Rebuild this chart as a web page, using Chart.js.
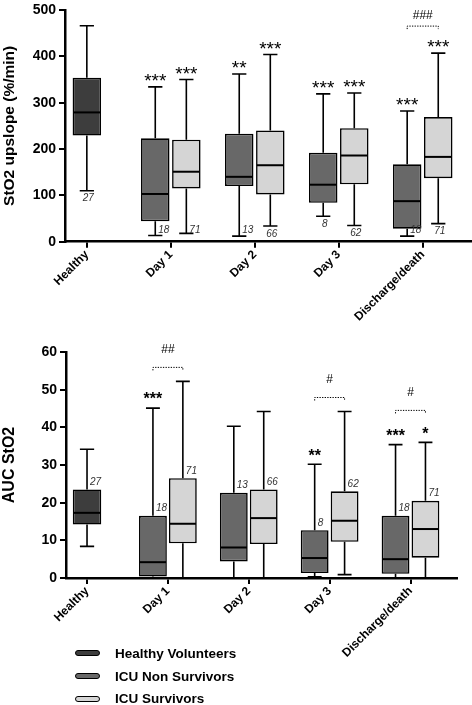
<!DOCTYPE html>
<html><head><meta charset="utf-8">
<script src="https://cdn.jsdelivr.net/npm/chart.js@4"></script>
<style>
html,body{margin:0;padding:0;background:#fff;width:472px;height:705px;overflow:hidden;}
#c1{position:absolute;left:0;top:0;}
#c2{position:absolute;left:0;top:320px;}
#legend{position:absolute;left:0;top:0;width:472px;height:705px;pointer-events:none;font-family:'Liberation Sans',Arial,sans-serif;}
.lm{position:absolute;left:75px;width:23px;height:4px;border:1.5px solid #000;border-radius:3px;}
.lt{position:absolute;left:115px;font-weight:bold;font-size:13.5px;line-height:16px;color:#000;white-space:nowrap;}
</style></head><body>
<canvas id="c1" width="472" height="325"></canvas>
<canvas id="c2" width="472" height="345"></canvas>
<div id="legend"></div>
<script>
const categories = ['Healthy', 'Day 1', 'Day 2', 'Day 3', 'Discharge/death'];
const seriesNames = ['Healthy Volunteers', 'ICU Non Survivors', 'ICU Survivors'];
const seriesColors = ['#3d3d3d', '#686868', '#d5d5d5'];

// box stats: [min, q1, median, q3, max]
const upHealthy = [[110, 229, 279, 354, 466], null, null, null, null];
const upNonSurv = [null, [13.5, 44, 103, 223, 334], [12, 120, 140, 233, 362], [55, 84, 123, 192, 319], [12, 28, 87.5, 167, 282]];
const upSurv = [null, [18, 115, 151, 220, 350], [34, 102, 165, 240, 404], [35, 124, 186, 245, 321], [39, 137, 183, 269, 407]];

const aucHealthy = [[8.4, 14.2, 17.3, 23.5, 34.2], null, null, null, null];
const aucNonSurv = [null, [0, 0.4, 4.2, 16.5, 45.1], [0, 4.4, 8.1, 22.6, 40.3], [0.3, 1.3, 5.3, 12.7, 30.2], [0, 1.1, 5.0, 16.5, 35.4]];
const aucSurv = [null, [0, 9.2, 14.4, 26.5, 52.2], [0, 9.0, 15.9, 23.5, 44.2], [0.9, 9.6, 15.2, 23.0, 44.2], [0, 5.4, 13.0, 20.5, 36.0]];

// group sizes
const nHealthy = [27, null, null, null, null];
const nNonSurv = [null, 18, 13, 8, 18];
const nSurv = [null, 71, 66, 62, 71];

// significance marks
const upStarsNS = [null, '***', '**', '***', '***'];
const upStarsS = [null, '***', '***', '***', '***'];
const upHash = [null, null, null, null, '###'];
const aucStarsNS = [null, '***', null, '**', '***'];
const aucStarsS = [null, null, null, null, '*'];
const aucHash = [null, '##', null, '#', '#'];

const upTicks = [0, 100, 200, 300, 400, 500];
const aucTicks = [0, 10, 20, 30, 40, 50, 60];

const FAMILY = "'Liberation Sans', Arial, sans-serif";

const boxPlugin = {
  id: 'boxExtras',
  afterDatasetsDraw(chart, args, o) {
    const ctx = chart.ctx, ys = chart.scales.y;
    const groups = {};
    ctx.save();
    chart.data.datasets.forEach((d, di) => {
      const meta = chart.getDatasetMeta(di);
      meta.data.forEach((el, i) => {
        const s = d.stats[i];
        if (!s) return;
        const x = el.x, w = el.width;
        const [pMin, pQ1, pMed, pQ3, pMax] = s.map(v => ys.getPixelForValue(v));
        ctx.setLineDash([]);
        ctx.strokeStyle = '#000';
        ctx.lineWidth = o.lineWidth;
        ctx.beginPath();
        ctx.moveTo(x, pQ3); ctx.lineTo(x, pMax);
        ctx.moveTo(x - w / 4, pMax); ctx.lineTo(x + w / 4, pMax);
        ctx.moveTo(x, pQ1); ctx.lineTo(x, pMin);
        ctx.moveTo(x - w / 4, pMin); ctx.lineTo(x + w / 4, pMin);
        ctx.stroke();
        ctx.lineWidth = o.medianWidth;
        ctx.beginPath();
        ctx.moveTo(x - w / 2 + 0.8, pMed); ctx.lineTo(x + w / 2 - 0.8, pMed);
        ctx.stroke();
        let top = pMax;
        const st = d.stars && d.stars[i];
        if (st) {
          ctx.font = o.starFont;
          ctx.fillStyle = '#000';
          ctx.textAlign = 'center';
          ctx.textBaseline = 'alphabetic';
          const cy = pMax - o.starGap;
          ctx.fillText(st, x, cy + o.starSize * 0.58);
          top = cy - o.starHalf;
        }
        const n = d.nLabels && d.nLabels[i];
        if (n != null) {
          ctx.font = 'italic 10px ' + FAMILY;
          ctx.fillStyle = '#333';
          ctx.textBaseline = 'alphabetic';
          let lx, cy;
          if (o.nMode === 'top') {
            ctx.textAlign = 'left';
            lx = x + 3; cy = pQ3 - 8;
          } else {
            if (pMin + 7 <= chart.chartArea.bottom - 8) {
              ctx.textAlign = 'center';
              lx = x + 1.5; cy = pMin + 7;
            } else {
              ctx.textAlign = 'left';
              lx = x + 3; cy = chart.chartArea.bottom - 12;
            }
          }
          ctx.fillText(String(n), lx, cy + 3.6);
        }
        (groups[i] = groups[i] || []).push({x, top});
      });
    });
    (o.hash || []).forEach((h, i) => {
      if (!h || !groups[i]) return;
      const g = groups[i];
      const x1 = g[0].x, x2 = g[g.length - 1].x;
      const top = Math.min(...g.map(e => e.top));
      const by = top - o.bracketGap;
      ctx.strokeStyle = '#000';
      ctx.lineWidth = 1;
      ctx.setLineDash([1.3, 1.3]);
      ctx.beginPath();
      ctx.moveTo(x1, by + 3); ctx.lineTo(x1, by); ctx.lineTo(x2, by); ctx.lineTo(x2, by + 3);
      ctx.stroke();
      ctx.setLineDash([]);
      ctx.font = '12px ' + FAMILY;
      ctx.fillStyle = '#000';
      ctx.textAlign = 'center';
      ctx.textBaseline = 'alphabetic';
      ctx.fillText(h, (x1 + x2) / 2, by - o.hashGap + 12 * 0.35);
    });
    ctx.restore();
  }
};

function makeDataset(idx, stats, n, stars) {
  return {
    label: seriesNames[idx],
    data: stats.map(s => s ? [s[1], s[3]] : null),
    stats: stats,
    nLabels: n,
    stars: stars,
    backgroundColor: seriesColors[idx],
    borderColor: '#000',
    borderWidth: 1.6,
    borderSkipped: false,
    skipNull: true,
    categoryPercentage: 0.74,
    barPercentage: 0.93,
    maxBarThickness: 28.5
  };
}

function makeChart(canvas, cfg) {
  return new Chart(canvas, {
    type: 'bar',
    data: {
      labels: categories.map((c, i) => i),
      datasets: [
        makeDataset(0, cfg.healthy, nHealthy, null),
        makeDataset(1, cfg.nonSurv, nNonSurv, cfg.starsNS),
        makeDataset(2, cfg.surv, nSurv, cfg.starsS)
      ]
    },
    plugins: [boxPlugin],
    options: {
      responsive: false,
      animation: false,
      events: [],
      layout: { padding: cfg.padding },
      plugins: {
        legend: { display: false },
        tooltip: { enabled: false },
        boxExtras: cfg.extras
      },
      scales: {
        x: {
          type: 'linear',
          bounds: 'data',
          min: -0.26,
          max: 4.575,
          offset: false,
          afterBuildTicks: s => { s.ticks = categories.map((c, i) => ({ value: i })); },
          afterFit: s => { s.height = cfg.xHeight; },
          ticks: {
            autoSkip: false, minRotation: 45, maxRotation: 45, padding: 0,
            callback: v => categories[v],
            color: '#000',
            font: { family: FAMILY, size: 12, weight: 'bold' }
          },
          grid: { display: true, drawOnChartArea: false, drawTicks: true, tickLength: 6, color: '#000', lineWidth: 2, offset: false },
          border: { display: true, color: '#000', width: 2.5 }
        },
        y: {
          type: 'linear',
          bounds: 'data',
          min: cfg.ticks[0],
          max: cfg.ticks[cfg.ticks.length - 1],
          afterBuildTicks: s => { s.ticks = cfg.ticks.map(v => ({ value: v })); },
          afterFit: s => { s.width = cfg.yWidth; },
          ticks: {
            padding: 3, color: '#000',
            font: { family: FAMILY, size: 14, weight: 'bold', lineHeight: 1 }
          },
          grid: { display: true, drawOnChartArea: false, drawTicks: true, tickLength: 6, color: '#000', lineWidth: 2 },
          border: { display: true, color: '#000', width: 2.5 },
          title: {
            display: true, text: cfg.title, color: '#000', padding: 0,
            font: { family: FAMILY, size: cfg.titleSize, weight: 'bold' }
          }
        }
      }
    }
  });
}

makeChart(document.getElementById('c1'), {
  healthy: upHealthy, nonSurv: upNonSurv, surv: upSurv,
  starsNS: upStarsNS, starsS: upStarsS,
  ticks: upTicks,
  title: 'StO2 upslope (%/min)', titleSize: 15.5,
  padding: { top: 7, right: 1, left: 0, bottom: 0 },
  xHeight: 83.3, yWidth: 65,
  extras: { lineWidth: 1.6, medianWidth: 2, starFont: '19px ' + FAMILY, starSize: 19, starGap: 11, starHalf: 4,
            nMode: 'below', hash: upHash, bracketGap: 12, hashGap: 11 }
});

makeChart(document.getElementById('c2'), {
  healthy: aucHealthy, nonSurv: aucNonSurv, surv: aucSurv,
  starsNS: aucStarsNS, starsS: aucStarsS,
  ticks: aucTicks,
  title: 'AUC StO2', titleSize: 16,
  padding: { top: 32, right: 15, left: 0, bottom: 0 },
  xHeight: 87, yWidth: 66,
  extras: { lineWidth: 1.6, medianWidth: 2, starFont: 'bold 16px ' + FAMILY, starSize: 16, starGap: 13, starHalf: 5,
            nMode: 'top', hash: aucHash, bracketGap: 14, hashGap: 19 }
});

// legend
const legend = document.getElementById('legend');
const rowY = [653.5, 676.5, 699];
seriesNames.forEach((name, i) => {
  const m = document.createElement('div');
  m.className = 'lm';
  m.style.top = (rowY[i] - 3.5) + 'px';
  m.style.background = seriesColors[i];
  legend.appendChild(m);
  const t = document.createElement('div');
  t.className = 'lt';
  t.style.top = (rowY[i] - 8) + 'px';
  t.textContent = name;
  legend.appendChild(t);
});
</script>
</body></html>
